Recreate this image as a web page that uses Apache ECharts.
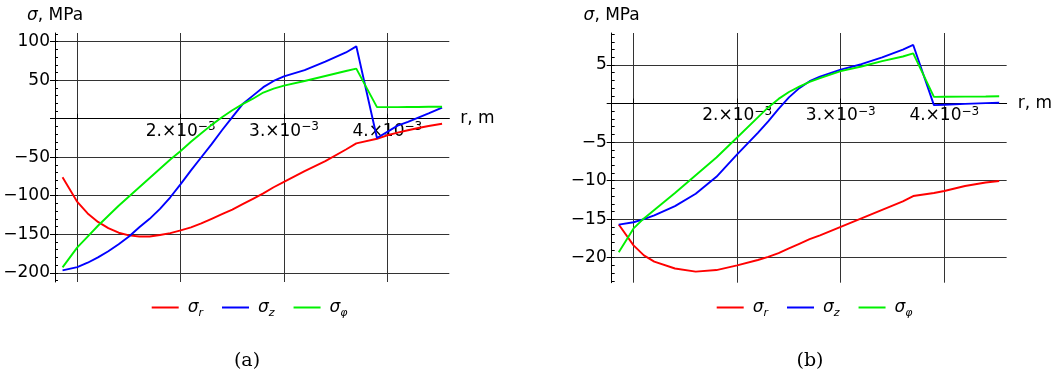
<!DOCTYPE html>
<html><head><meta charset="utf-8">
<script src="https://cdn.jsdelivr.net/npm/echarts@6/dist/echarts.min.js"></script>
<style>html,body{margin:0;padding:0;background:#fff}#c{width:1055px;height:375px}</style>
</head><body><div id="c"></div>
<script>
// ---- data: chart (a) ----
const R_A = [0.857e-3,1.0e-3,1.1e-3,1.2e-3,1.3e-3,1.4e-3,1.5e-3,1.6e-3,1.7e-3,1.8e-3,1.9e-3,2.0e-3,2.1e-3,2.2e-3,2.3e-3,2.4e-3,2.5e-3,2.6e-3,2.7e-3,2.8e-3,2.9e-3,3.0e-3,3.2e-3,3.4e-3,3.6e-3,3.7e-3,3.9e-3,4.0e-3,4.1e-3,4.2e-3,4.3e-3,4.4e-3,4.53e-3];
const SIG_R_A = [-76,-108,-123,-134,-142,-148,-151.5,-153,-153,-151,-148.5,-145,-141,-136,-130,-124,-118,-111,-104,-97,-89,-82,-68,-55,-40,-32,-26,-21.5,-18,-15,-12,-9.5,-6.5];
const SIG_Z_A = [-197,-192.6,-187,-180,-172,-163,-153,-141,-130,-117,-102,-85,-67,-50,-33,-15,2,19,30,41,49,55,63,74,86,94,-25,-17,-9,-4,1.5,7,14.5];
const SIG_F_A = [-193,-167,-153,-139,-126,-113,-101,-89,-77,-65,-53,-42,-30,-19,-8,2,11,19,26,34,39,43,49,55.5,62,65,15,15,15,15.2,15.3,15.5,15.5];
// ---- data: chart (b) ----
const R_B = [0.857e-3,1.0e-3,1.1e-3,1.2e-3,1.4e-3,1.6e-3,1.8e-3,2.0e-3,2.2e-3,2.3e-3,2.4e-3,2.5e-3,2.6e-3,2.7e-3,2.8e-3,3.0e-3,3.2e-3,3.4e-3,3.6e-3,3.7e-3,3.9e-3,4.0e-3,4.2e-3,4.4e-3,4.53e-3];
const SIG_R_B = [-15.7,-18.4,-19.7,-20.5,-21.4,-21.8,-21.6,-21.0,-20.3,-19.9,-19.4,-18.8,-18.2,-17.6,-17.1,-16.0,-14.9,-13.8,-12.7,-12.0,-11.6,-11.35,-10.7,-10.25,-10.05];
const SIG_Z_B = [-15.7,-15.4,-15.0,-14.5,-13.3,-11.7,-9.5,-6.6,-3.8,-2.3,-0.7,0.8,2.0,2.9,3.5,4.4,5.1,6.0,7.0,7.6,-0.2,-0.15,-0.05,0.05,0.1];
const SIG_F_B = [-19.3,-16.2,-14.9,-13.8,-11.6,-9.3,-7.0,-4.4,-1.8,-0.5,0.6,1.5,2.2,2.8,3.3,4.2,4.8,5.5,6.1,6.5,0.86,0.88,0.9,0.92,0.95];
// ---- names & ticks ----
const SERIES_NAMES = ['σr','σz','σφ'];
const SUBSCRIPTS = {'σr':'r','σz':'z','σφ':'φ'};
const COLORS = ['#ff0000','#0000ff','#00f000'];
const X_TICKS = [1e-3,2e-3,3e-3,4e-3];
const X_LABELS = [2e-3,3e-3,4e-3];
const Y_TICKS_A = [-200,-150,-100,-50,0,50,100];
const Y_LABELS_A = [-200,-150,-100,-50,50,100];
const Y_MINOR_A = [-210,-200,-190,-180,-170,-160,-150,-140,-130,-120,-110,-100,-90,-80,-70,-60,-50,-40,-30,-20,-10,0,10,20,30,40,50,60,70,80,90,100,110];
const Y_TICKS_B = [-20,-15,-10,-5,0,5];
const Y_LABELS_B = [-20,-15,-10,-5,5];
const Y_MINOR_B = [-23,-22,-21,-20,-19,-18,-17,-16,-15,-14,-13,-12,-11,-10,-9,-8,-7,-6,-5,-4,-3,-2,-1,0,1,2,3,4,5,6,7,8,9];

// axis ranges
const XR_A = [0.784e-3, 4.6e-3], YR_A = [-212, 111.3];
const XR_B = [0.789e-3, 4.602e-3], YR_B = [-23.24, 9.15];
// grid boxes
const G_A = { left: 55, top: 33, width: 394.3, height: 249 };
const G_B = { left: 611.7, top: 33, width: 397.3, height: 249.7 };

const FONT = 'DejaVu Sans';
const zip = (xs, ys) => xs.map((x, i) => [x, ys[i]]);
const minus = v => String(v).replace('-', '\u2212');
// x axis sits on the y = 0 line: offset from the grid bottom
const zeroOffset = (g, yr) => -(g.height * (0 - yr[0]) / (yr[1] - yr[0]));

function xAxis(gi, xr, g, yr) {
  return {
    type: 'value', gridIndex: gi, min: xr[0], max: xr[1], position: 'bottom', offset: zeroOffset(g, yr),
    name: 'r, m', nameLocation: 'end', nameGap: 11,
    nameTextStyle: { fontFamily: FONT, fontSize: 17, color: '#000', verticalAlign: 'middle' },
    axisLine: { show: true, onZero: false, lineStyle: { color: '#000', width: 1 } },
    axisTick: { show: true, inside: true, length: 5, customValues: X_TICKS, lineStyle: { color: '#000' } },
    axisLabel: {
      show: true, customValues: X_LABELS, margin: 2, hideOverlap: false,
      formatter: v => '{m|' + Math.round(v * 1000) + '.×10}{s|\u22123}',
      rich: {
        m: { fontFamily: FONT, fontSize: 17, color: '#000', lineHeight: 21 },
        s: { fontFamily: FONT, fontSize: 12, color: '#000', verticalAlign: 'top', lineHeight: 12 }
      }
    },
    splitLine: { show: true, lineStyle: { color: '#333', width: 1 } }
  };
}
function yAxisMain(gi, yr, ticks, labels) {
  return {
    type: 'value', gridIndex: gi, min: yr[0], max: yr[1], position: 'left',
    name: '{i|σ}{n|, MPa}', nameLocation: 'end', nameGap: 9,
    nameTextStyle: { rich: {
      i: { fontFamily: FONT, fontSize: 17, fontStyle: 'italic', color: '#000' },
      n: { fontFamily: FONT, fontSize: 17, color: '#000' } } },
    axisLine: { show: true, onZero: false, lineStyle: { color: '#000', width: 1 } },
    axisTick: { show: true, inside: false, length: 5, customValues: ticks, lineStyle: { color: '#000' } },
    axisLabel: { show: true, customValues: labels, margin: 5, hideOverlap: false,
      formatter: v => '{v|' + minus(v) + '}',
      rich: { v: { fontFamily: FONT, fontSize: 17, color: '#000' } } },
    splitLine: { show: true, lineStyle: { color: '#333', width: 1 } }
  };
}
function yAxisMinor(gi, yr, minor) {
  return {
    type: 'value', gridIndex: gi, min: yr[0], max: yr[1], position: 'left',
    axisLine: { show: false, onZero: false },
    axisTick: { show: true, inside: true, length: 3, customValues: minor, lineStyle: { color: '#000' } },
    axisLabel: { show: false }, splitLine: { show: false }
  };
}
function lineSeries(name, xi, yi, data, color) {
  return { type: 'line', name, xAxisIndex: xi, yAxisIndex: yi, data, showSymbol: false, symbol: 'none',
    lineStyle: { color, width: 1.9 }, itemStyle: { color }, emphasis: { disabled: true } };
}
function legend(left) {
  return {
    left, top: 299, padding: 0, orient: 'horizontal', icon: 'rect', itemWidth: 27, itemHeight: 2, itemGap: 19,
    data: SERIES_NAMES,
    formatter: n => '{g|σ}{b|' + SUBSCRIPTS[n] + '}',
    textStyle: { rich: {
      g: { fontFamily: FONT, fontSize: 17, fontStyle: 'italic', color: '#000', lineHeight: 22, padding: [0, 0, 0, 4] },
      b: { fontFamily: FONT, fontSize: 11, fontStyle: 'italic', color: '#000', verticalAlign: 'bottom', lineHeight: 13 }
    } }
  };
}

const chart = echarts.init(document.getElementById('c'), null, { renderer: 'canvas' });
chart.setOption({
  animation: false,
  backgroundColor: '#fff',
  grid: [ G_A, G_B ],
  xAxis: [ xAxis(0, XR_A, G_A, YR_A), xAxis(1, XR_B, G_B, YR_B) ],
  yAxis: [
    yAxisMain(0, YR_A, Y_TICKS_A, Y_LABELS_A),
    yAxisMain(1, YR_B, Y_TICKS_B, Y_LABELS_B),
    yAxisMinor(0, YR_A, Y_MINOR_A),
    yAxisMinor(1, YR_B, Y_MINOR_B)
  ],
  legend: [ legend(151.7), legend(716.7) ],
  series: [
    lineSeries('σr', 0, 0, zip(R_A, SIG_R_A), COLORS[0]),
    lineSeries('σz', 0, 0, zip(R_A, SIG_Z_A), COLORS[1]),
    lineSeries('σφ', 0, 0, zip(R_A, SIG_F_A), COLORS[2]),
    lineSeries('σr', 1, 1, zip(R_B, SIG_R_B), COLORS[0]),
    lineSeries('σz', 1, 1, zip(R_B, SIG_Z_B), COLORS[1]),
    lineSeries('σφ', 1, 1, zip(R_B, SIG_F_B), COLORS[2])
  ],
  graphic: [
    { type: 'text', x: 247, y: 361, style: { text: '(a)', font: '19px "DejaVu Serif", serif', fill: '#000', align: 'center', verticalAlign: 'middle' } },
    { type: 'text', x: 810, y: 361, style: { text: '(b)', font: '19px "DejaVu Serif", serif', fill: '#000', align: 'center', verticalAlign: 'middle' } }
  ]
});
</script>
</body></html>
